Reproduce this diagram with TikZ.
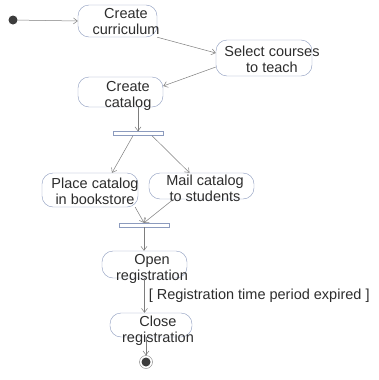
\documentclass[tikz,border=0pt]{standalone}
\usepackage{fontspec}
\setmainfont{Liberation Sans}
\usepackage{xcolor}
\definecolor{actline}{RGB}{140,155,190}
\definecolor{arrgray}{RGB}{125,125,125}
\definecolor{txtgray}{RGB}{45,45,45}
\definecolor{dotgray}{RGB}{60,60,60}
\usetikzlibrary{arrows.meta,positioning,calc}

\begin{document}
\begin{tikzpicture}[
  x=1pt,y=-1pt,
  act/.style={draw=actline,fill=white,rounded corners=11pt,inner sep=0pt},
  txt/.style={font=\fontsize{14.5}{16}\selectfont,text=txtgray,align=center,inner sep=0pt},
  bar/.style={draw=actline,fill=white,minimum width=50pt,minimum height=4pt,inner sep=0pt},
  arr/.style={-{Straight Barb[length=4pt,width=6pt]},arrgray,line width=0.5pt}
]
  \useasboundingbox (0,0) rectangle (379,380);
  % Start and end
  \node[circle,fill=dotgray,minimum size=9pt,inner sep=0pt] (start) at (13,20) {};
  \node[circle,draw=arrgray,fill=white,minimum size=13pt,inner sep=0pt] (stop) at (146,362) {};
  \node[circle,fill=dotgray,minimum size=9pt,inner sep=0pt] (stopdot) at (146,362) {};
  % Activities
  \node[act,minimum width=79pt,minimum height=32pt] (cc) at (117.5,21) {};
  \node[txt] (cc-txt) at (126,22) {Create\\curriculum};
  \node[act,minimum width=96pt,minimum height=36pt] (sc) at (264,58) {};
  \node[txt] (sc-txt) at (272,59) {Select courses\\to teach};
  \node[act,minimum width=85pt,minimum height=30pt] (cat) at (120.5,92) {};
  \node[txt] (cat-txt) at (128,95.5) {Create\\catalog};
  \node[act,minimum width=96pt,minimum height=34pt] (place) at (90,190) {};
  \node[txt] (place-txt) at (95,191) {Place catalog\\in bookstore};
  \node[act,minimum width=105pt,minimum height=26pt] (mail) at (201.5,186) {};
  \node[txt] (mail-txt) at (205,188.5) {Mail catalog\\to students};
  \node[act,minimum width=85pt,minimum height=27pt] (open) at (144.5,264.5) {};
  \node[txt] (open-txt) at (152,268.5) {Open\\registration};
  \node[act,minimum width=82pt,minimum height=24pt] (close) at (151,325) {};
  \node[txt] (close-txt) at (158,331) {Close\\registration};
  % Fork and join bars
  \node[bar] (fork) at (138,133.5) {};
  \node[bar] (join) at (144,225) {};
  % Transitions
  \draw[arr] (start) -- (cc.west);
  \draw[arr] (cc.south east) -- ([yshift=5pt]sc.west);
  \draw[arr] ([yshift=-9pt]sc.west) -- ([yshift=6pt]cat.east);
  \draw[arr] (fork.north |- cat.south) -- (fork.north);
  \draw[arr] ([xshift=-5pt]fork.south) -- ([xshift=22pt]place.north);
  \draw[arr] ([xshift=14pt]fork.south) -- ([xshift=-12pt]mail.north);
  \draw[arr] ([xshift=-3pt]place.south east) -- (join.north);
  \draw[arr] ([xshift=-28pt]mail.south) -- (join.north);
  \draw[arr] (join.south) -- (join.south |- open.north);
  \draw[arr] (open.south) -- (open.south |- close.north) node[txt,midway,anchor=west,xshift=4pt] (guard) {[ Registration time period expired ]};
  \draw[arr] (stop.north |- close.south) -- (stop.north);
\end{tikzpicture}
\end{document}
